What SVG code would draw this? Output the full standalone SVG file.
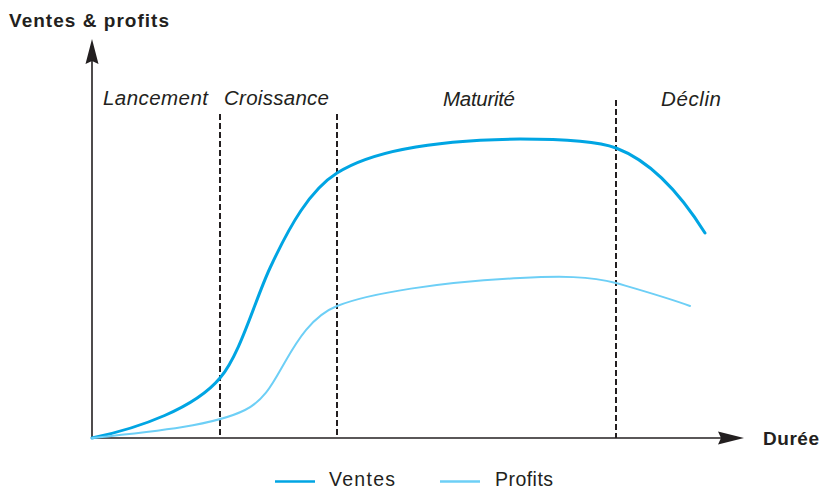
<svg xmlns="http://www.w3.org/2000/svg" width="823" height="489" viewBox="0 0 823 489">
<style>
.axis{stroke:#231f20;stroke-width:1.6;fill:none}
.head{fill:#231f20}
.dash{stroke:#231f20;stroke-width:2;stroke-dasharray:6 3;fill:none}
.ventes{stroke:#00a5e3;stroke-width:3;fill:none;stroke-linecap:round}
.profits{stroke:#6dcff6;stroke-width:2;fill:none;stroke-linecap:round}
.title{font-family:"Liberation Sans",Arial,sans-serif;font-weight:bold;font-size:19px;fill:#231f20}
.phase{font-family:"Liberation Sans",Arial,sans-serif;font-style:italic;font-size:20.5px;fill:#231f20}
.legend{font-family:"Liberation Sans",Arial,sans-serif;font-size:19.5px;fill:#231f20}
</style>
<rect width="823" height="489" fill="#ffffff"/>
<g id="axes">
  <line class="axis" x1="92" y1="438" x2="92" y2="60"/>
  <polygon class="head" points="92,39 98.5,64 92,61 85.5,64"/>
  <line class="axis" x1="92" y1="438" x2="722" y2="438"/>
  <polygon class="head" points="744,438 718,431.5 721,438 718,444.5"/>
  <text class="title" x="9" y="27" textLength="160" lengthAdjust="spacing">Ventes &amp; profits</text>
  <text class="title" x="763" y="445" textLength="56" lengthAdjust="spacing">Durée</text>
</g>
<g id="phases">
  <line class="dash" x1="220" y1="114" x2="220" y2="438"/>
  <line class="dash" x1="337" y1="114" x2="337" y2="438"/>
  <line class="dash" x1="616" y1="100" x2="616" y2="438"/>
  <text class="phase" x="103" y="105" textLength="105" lengthAdjust="spacing">Lancement</text>
  <text class="phase" x="224" y="105" textLength="105" lengthAdjust="spacing">Croissance</text>
  <text class="phase" x="443" y="106" textLength="72" lengthAdjust="spacing">Maturité</text>
  <text class="phase" x="661" y="106" textLength="60" lengthAdjust="spacing">Déclin</text>
</g>
<g id="curves">
  <path id="ventes" class="ventes" d="M92,438 C140,428 195,408 220,378 C240,355 255,300 270,268 C290,225 310,190 337,173 C370,152 430,140 520,139 C570,139 600,142 616,148 C645,159 675,185 705,233"/>
  <path id="profits" class="profits" d="M92,438 C160,431 215,425 245,410 C265,400 273,383 285,362 C297,341 312,316 337,306 C370,293 440,282 520,278 C560,276 590,276 616,283 C640,290 665,297 690,306"/>
</g>
<g id="legend">
  <line x1="275" y1="481.5" x2="315" y2="481.5" stroke="#00a5e3" stroke-width="2.5"/>
  <text class="legend" x="329" y="486" textLength="66" lengthAdjust="spacing">Ventes</text>
  <line x1="440" y1="481.5" x2="480" y2="481.5" stroke="#6dcff6" stroke-width="2.5"/>
  <text class="legend" x="495" y="486" textLength="58" lengthAdjust="spacing">Profits</text>
</g>
</svg>
